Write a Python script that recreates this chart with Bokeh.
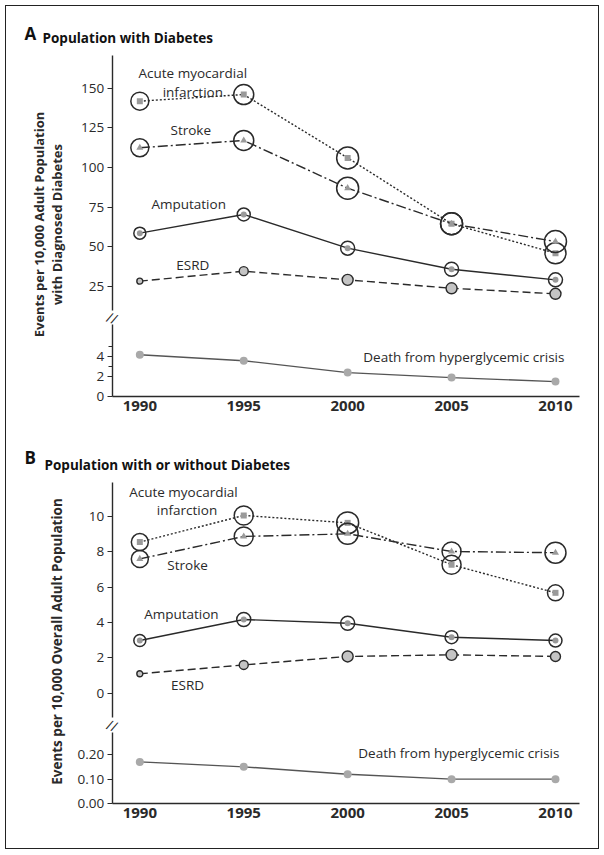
import math
from bokeh.plotting import figure
from bokeh.models import Range1d, LinearAxis, FixedTicker, Label, PrintfTickFormatter
from bokeh.layouts import column
from bokeh.embed import file_html
from bokeh.resources import INLINE

# ---------------- data ----------------
years = [1990, 1995, 2000, 2005, 2010]

# Panel A: population with diabetes (events per 10,000)
a_ami = [141.8, 146.0, 106.0, 64.4, 45.8]
a_stroke = [112.4, 117.0, 86.9, 64.4, 53.2]
a_amputation = [58.5, 70.3, 49.0, 35.7, 29.0]
a_esrd = [28.2, 34.5, 29.0, 23.7, 20.2]
a_death = [4.2, 3.6, 2.4, 1.9, 1.5]

# Panel B: population with or without diabetes
b_ami = [8.55, 10.06, 9.64, 7.27, 5.68]
b_stroke = [7.6, 8.87, 9.02, 8.02, 7.95]
b_amputation = [2.98, 4.17, 3.96, 3.17, 2.98]
b_esrd = [1.1, 1.6, 2.08, 2.17, 2.08]
b_death = [0.17, 0.15, 0.12, 0.10, 0.10]

# ring diameters around points (px)
a_ami_ring = [18, 20, 22, 22, 21]
a_stroke_ring = [18, 20, 22, 22, 22]
a_amp_ring = [12, 13, 14, 14, 14]
a_esrd_ring = [6, 9, 11, 11, 11]
b_ami_ring = [17, 19, 22, 19, 16]
b_stroke_ring = [17, 19, 21, 19, 21]
b_amp_ring = [12, 14, 14, 13, 13]
b_esrd_ring = [6, 9, 11, 11, 10]

a_ticks_upper = [25, 50, 75, 100, 125, 150]
a_ticks_lower = [0, 2, 4]
b_ticks_upper = [0, 2, 4, 6, 8, 10]
b_ticks_lower = [0.0, 0.1, 0.2]

FONT = "Open Sans"
INK = "#2a2a2a"
GRAY = "#9a9a9a"
XS, XE = 1983.585, 2012.07     # full canvas width (frame spans the canvas)
X0, X1 = 1988.67, 2011.16      # visible axis extent
W = 592


def span(top, bottom, anchor_val, anchor_px, px_per_unit):
    """Range whose values map anchor_val to page pixel anchor_px over a canvas top..bottom."""
    return Range1d(anchor_val - (bottom - anchor_px) / px_per_unit,
                   anchor_val + (anchor_px - top) / px_per_unit)


def base_fig(height, yr, yl, x_axis_at):
    p = figure(width=W, height=height, x_range=Range1d(XS, XE), y_range=yr,
               x_axis_location=None, y_axis_location=None, output_backend="svg",
               toolbar_location=None, min_border=0)
    p.extra_y_ranges = {"low": yl}
    p.xgrid.visible = False
    p.ygrid.visible = False
    p.outline_line_color = None
    xa = LinearAxis(fixed_location=x_axis_at, bounds=(X0, X1),
                    ticker=FixedTicker(ticks=years))
    xa.major_tick_out = 0
    xa.major_tick_in = 0
    xa.minor_tick_out = 0
    xa.minor_tick_in = 0
    xa.axis_line_color = INK
    xa.axis_line_width = 1.4
    xa.major_label_text_font = FONT
    xa.major_label_text_font_size = "15px"
    xa.major_label_text_font_style = "bold"
    xa.major_label_text_color = INK
    xa.major_label_standoff = 4
    p.add_layout(xa, "below")
    return p


def y_axis(p, rng, ticks, minor, bounds, fmt=None):
    ax = LinearAxis(y_range_name=rng, fixed_location=X0,
                    ticker=FixedTicker(ticks=ticks, minor_ticks=minor), bounds=bounds)
    ax.axis_line_color = INK
    ax.axis_line_width = 1.4
    ax.major_tick_line_color = INK
    ax.minor_tick_line_color = INK
    ax.major_tick_line_width = 1.2
    ax.minor_tick_line_width = 1.2
    ax.major_tick_out = 5
    ax.major_tick_in = 0
    ax.minor_tick_out = 4
    ax.minor_tick_in = 0
    ax.major_label_text_font = FONT
    ax.major_label_text_font_size = "13.5px"
    ax.major_label_text_color = INK
    ax.major_label_standoff = 3
    if fmt is not None:
        ax.formatter = fmt
    p.add_layout(ax, "left")


def series(p, vals, rings, marker, dash, inner=6, rng="default"):
    p.line(years, vals, line_color=INK, line_width=1.4, line_dash=dash, y_range_name=rng)
    p.scatter(years, vals, marker=marker, size=inner, fill_color=GRAY, line_color=None,
              y_range_name=rng)
    p.scatter(years, vals, marker="circle", size=rings, fill_color=None, line_color=INK,
              line_width=1.5, y_range_name=rng)


def esrd(p, vals, rings):
    p.line(years, vals, line_color=INK, line_width=1.4, line_dash="8 4")
    p.scatter(years, vals, marker="circle", size=rings, fill_color="#c4c4c4",
              line_color=INK, line_width=1.4)


def death(p, vals):
    p.line(years, vals, line_color="#555555", line_width=1.4, y_range_name="low")
    p.scatter(years, vals, marker="circle", size=8, fill_color="#a9a9a9", line_color=None,
              y_range_name="low")


def txt(p, x, y, text, rng="default", align="center"):
    p.add_layout(Label(x=x, y=y, text=text, y_range_name=rng, text_align=align,
                       text_baseline="middle", text_font=FONT, text_font_size="13.5px",
                       text_color=INK))


def brk(p, y):
    p.add_layout(Label(x=X0, y=y, text="//", y_range_name="low", text_align="center",
                       text_baseline="middle", text_font=FONT, text_font_size="14px",
                       text_color=INK, angle=-0.35))


def scr(p, x, y, text, size, bold=True, angle=0.0, align="left", baseline="alphabetic",
        color="#111111"):
    # screen units: x from canvas left, y up from canvas bottom
    p.add_layout(Label(x=x, y=y, x_units="screen", y_units="screen", text=text,
                       text_font=FONT, text_font_size=size,
                       text_font_style="bold" if bold else "normal", text_color=color,
                       angle=angle, text_align=align, text_baseline=baseline))


ROT = math.pi / 2

# ---------------- Panel A ----------------
# canvas spans page y 6..433; x axis at page y 396
A_TOP, A_BOT = 6, 433
ya = span(A_TOP, A_BOT, 150, 87.7, 1.584)
yla = span(A_TOP, A_BOT, 0, 396, 9.95)
pa = base_fig(A_BOT - A_TOP, ya, yla, 150 - (396 - 87.7) / 1.584)
y_axis(pa, "default", a_ticks_upper, [], (9.7, 170.6))
y_axis(pa, "low", a_ticks_lower, [3, 5], (0, 7.2))
series(pa, a_ami, a_ami_ring, "square", "2 2")
series(pa, a_stroke, a_stroke_ring, "triangle", "10 3 2 3", inner=7)
series(pa, a_amputation, a_amp_ring, "circle", "solid")
esrd(pa, a_esrd, a_esrd_ring)
death(pa, a_death)
txt(pa, 1992.55, 159.3, "Acute myocardial")
txt(pa, 1992.55, 147.9, "infarction")
txt(pa, 1992.45, 123.9, "Stroke")
txt(pa, 1992.35, 76.6, "Amputation")
txt(pa, 1992.55, 38.1, "ESRD")
txt(pa, 2010.43, 4.0, "Death from hyperglycemic crisis", rng="low", align="right")
brk(pa, 7.9)
scr(pa, 18, A_BOT - 33.3, "A", "17px")
scr(pa, 36, A_BOT - 37.5, "Population with Diabetes", "13.5px")
scr(pa, 32.5, A_BOT - 224, "Events per 10,000 Adult Population", "13px", angle=ROT,
    align="center", baseline="middle", color=INK)
scr(pa, 50.5, A_BOT - 224, "with Diagnosed Diabetes", "13px", angle=ROT,
    align="center", baseline="middle", color=INK)

# ---------------- Panel B ----------------
# canvas spans page y 433..848; x axis at page y 803.3
B_TOP, B_BOT = 433, 848
yb = span(B_TOP, B_BOT, 0, 692.7, 17.67)
ylb = span(B_TOP, B_BOT, 0, 803.3, 246.5)
pb = base_fig(B_BOT - B_TOP, yb, ylb, -(803.3 - 692.7) / 17.67)
y_axis(pb, "default", b_ticks_upper, [], (-1.36, 11.92))
y_axis(pb, "low", b_ticks_lower, [], (0, 0.29), PrintfTickFormatter(format="%.2f"))
series(pb, b_ami, b_ami_ring, "square", "2 2")
series(pb, b_stroke, b_stroke_ring, "triangle", "10 3 2 3", inner=7)
series(pb, b_amputation, b_amp_ring, "circle", "solid")
esrd(pb, b_esrd, b_esrd_ring)
death(pb, b_death)
txt(pb, 1992.1, 11.36, "Acute myocardial")
txt(pb, 1992.27, 10.34, "infarction")
txt(pb, 1992.3, 7.23, "Stroke")
txt(pb, 1992.0, 4.51, "Amputation")
txt(pb, 1992.3, 0.44, "ESRD")
txt(pb, 2010.19, 0.205, "Death from hyperglycemic crisis", rng="low", align="right")
brk(pb, 0.318)
scr(pb, 18, B_BOT - 457.3, "B", "17px")
scr(pb, 38, B_BOT - 464.5, "Population with or without Diabetes", "13.5px")
scr(pb, 50, B_BOT - 641, "Events per 10,000 Overall Adult Population", "13.5px", angle=ROT,
    align="center", baseline="middle", color=INK)

layout = column(pa, pb, styles={"border": "1px solid #222222",
                                "margin-left": "5px", "margin-top": "5px"})
open("out.html", "w").write(file_html(layout, INLINE))
